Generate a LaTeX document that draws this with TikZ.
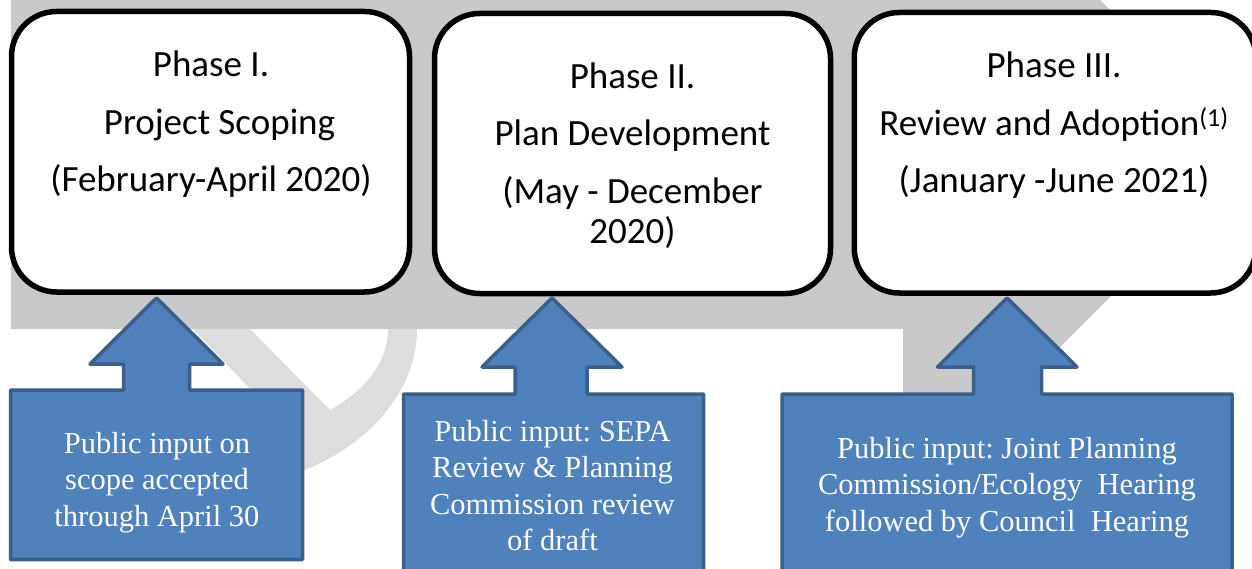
\documentclass[tikz,border=0pt]{standalone}
\usepackage{fontspec}
\setmainfont{Liberation Serif}
\newfontfamily\calibri{Carlito}
\definecolor{bandgray}{HTML}{C9C9C9}
\definecolor{ghostgray}{HTML}{DDDDDD}
\definecolor{calloutblue}{HTML}{4F81BD}
\definecolor{calloutedge}{HTML}{3A5F8B}
\frenchspacing
\begin{document}
\begin{tikzpicture}[x=1pt,y=-1pt,
  phasebox/.style={draw=black,line width=5.5pt,fill=white,rounded corners=45pt,inner sep=0pt},
  phasetext/.style={font=\calibri\fontsize{37}{40}\selectfont,align=center,inner sep=0pt,anchor=north},
  callout/.style={draw=calloutedge,line width=3.5pt,fill=calloutblue,line join=round},
  callouttext/.style={font=\fontsize{30.5}{36.5}\selectfont,text=white,align=center,inner sep=0pt,anchor=north}]
\clip (0,0) rectangle (1252,569);
\fill[white] (0,0) rectangle (1252,569);
% background band
\fill[bandgray] (11,0) -- (1100,0) -- (1253.5,153.5) -- (1001,406) -- (903,406) -- (903,329) -- (11,329) -- cycle;
\fill[ghostgray] (193,329) -- (250,329) -- (330,410) .. controls (362,392) and (388,365) .. (388,329)
  -- (417,329) .. controls (417,390) and (370,445) .. (300,472) -- (280,420) -- cycle;
% phase boxes
\node[phasebox,minimum width=398pt,minimum height=280.5pt] (p1) at (210.5,151.75) {};
\node[phasebox,minimum width=396pt,minimum height=280pt] (p2) at (632.5,153.5) {};
\node[phasebox,minimum width=401.5pt,minimum height=280.5pt] (p3) at (1055,152.75) {};
\node[phasetext] (t1) at (211,51) {Phase I.\\[17.5pt]\hspace*{17pt}Project Scoping\\[17.5pt](February-April 2020)};
\node[phasetext] (t2) at (632.5,63) {Phase II.\\[17pt]Plan Development\\[17.5pt](May - December\\2020)};
\node[phasetext] (t3) at (1054,52) {Phase III.\\[17.5pt]Review and Adoption\textsuperscript{(1)}\\[17.5pt](January -June 2021)};
% callouts
\draw[callout] (10.5,390) -- (123.5,390) -- (123.5,364) -- (90,364) -- (156.5,298) -- (223,364) -- (189.5,364) -- (189.5,390) -- (302.5,390) -- (302.5,559.5) -- (10.5,559.5) -- cycle;
\draw[callout] (403.5,394) -- (515,394) -- (515,367) -- (482,367) -- (552,298) -- (622,367) -- (587,367) -- (587,394) -- (703.5,394) -- (703.5,590) -- (403.5,590) -- cycle;
\draw[callout] (782,394) -- (973.5,394) -- (973.5,367) -- (937.5,367) -- (1007,298) -- (1077,367) -- (1041.5,367) -- (1041.5,394) -- (1232,394) -- (1232,590) -- (782,590) -- cycle;
\node[callouttext] (c1) at (157,432) {Public input on\\scope accepted\\through April 30};
\node[callouttext] (c2) at (552.5,420) {Public input: SEPA\\Review \& Planning\\Commission review\\of draft};
\node[callouttext] (c3) at (1007,437) {Public input: Joint Planning\\Commission/Ecology\ \ Hearing\\followed by Council\ \ Hearing};
\end{tikzpicture}
\end{document}
